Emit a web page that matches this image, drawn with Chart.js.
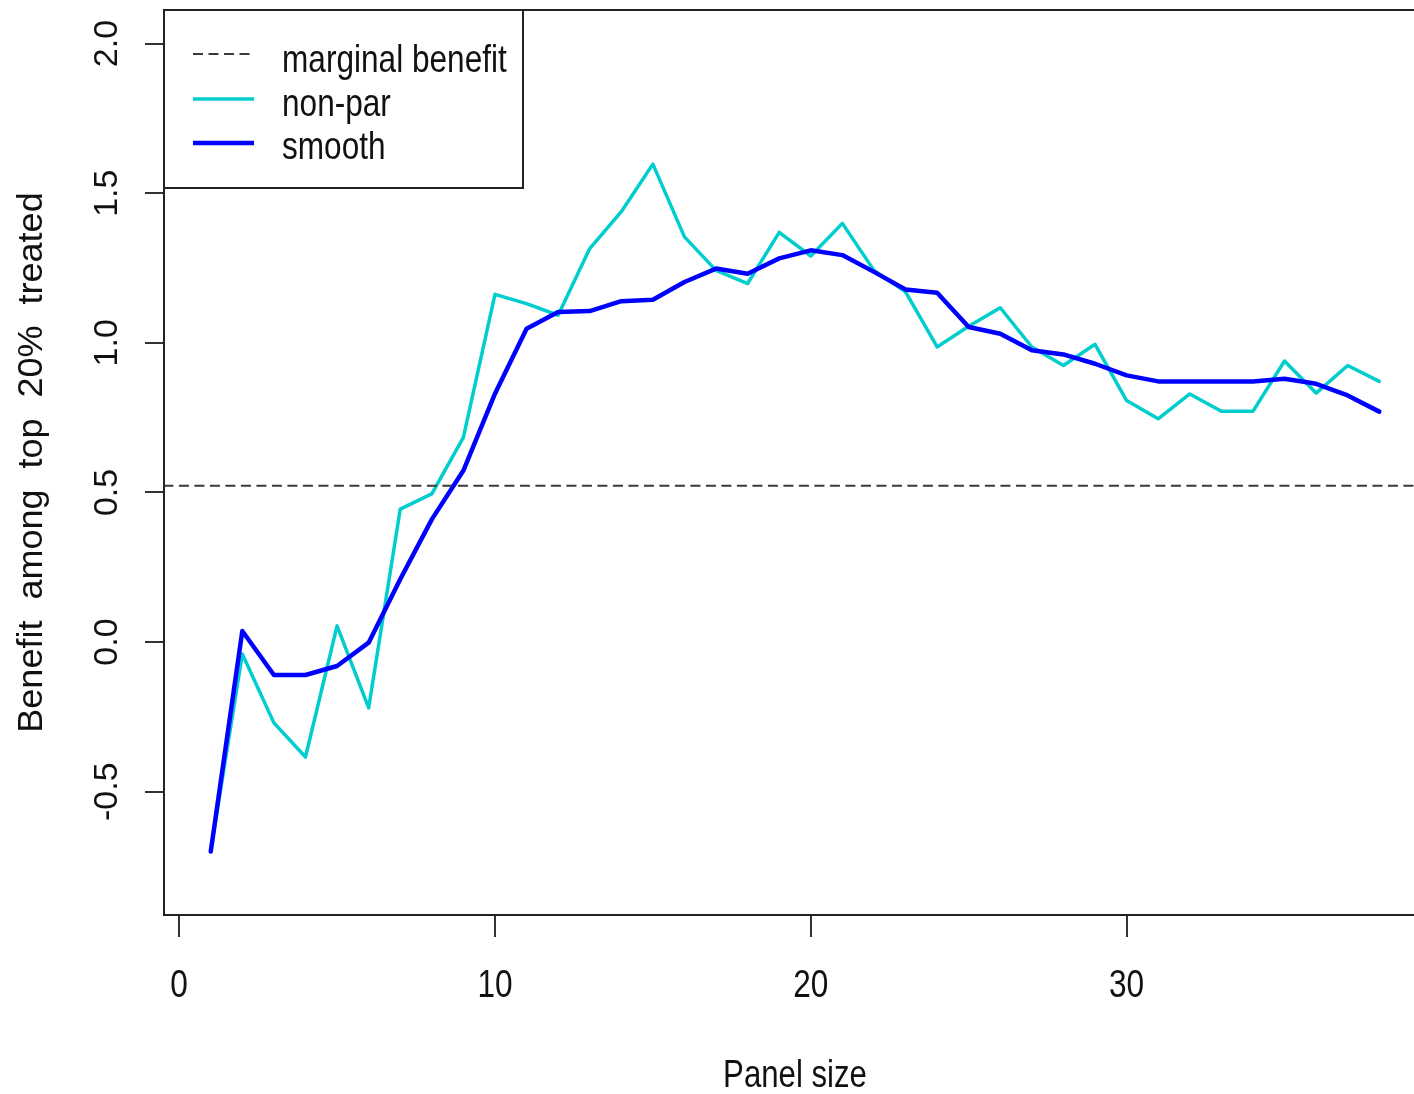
<!DOCTYPE html>
<html><head><meta charset="utf-8">
<script src="https://cdn.jsdelivr.net/npm/chart.js@4.4.0/dist/chart.umd.min.js"></script>
<style>
html,body{margin:0;padding:0;background:#fff;overflow:hidden;width:1414px;height:1094px}
#wrap{position:relative;width:1440px;height:1094px}
canvas{display:block}
</style></head>
<body><div id="wrap"><canvas id="c" width="1440" height="1094"></canvas></div>
<script>
const panelSize = [1,2,3,4,5,6,7,8,9,10,11,12,13,14,15,16,17,18,19,20,21,22,23,24,25,26,27,28,29,30,31,32,33,34,35,36,37,38];
const nonPar = [-0.70,-0.04,-0.27,-0.384,0.054,-0.22,0.444,0.495,0.684,1.162,1.131,1.092,1.315,1.438,1.597,1.354,1.242,1.198,1.369,1.29,1.399,1.242,1.17,0.986,1.055,1.117,0.986,0.924,0.995,0.807,0.746,0.829,0.771,0.771,0.939,0.832,0.924,0.871];
const smooth = [-0.70,0.037,-0.11,-0.11,-0.08,-0.002,0.21,0.41,0.573,0.83,1.047,1.103,1.106,1.139,1.144,1.203,1.248,1.231,1.282,1.309,1.293,1.237,1.178,1.167,1.053,1.03,0.975,0.961,0.93,0.891,0.871,0.871,0.871,0.871,0.88,0.863,0.824,0.77];
const marginalBenefit = 0.522;
const xTickValues = [0,10,20,30];
const xTickLabels = ["0","10","20","30"];
const yTickValues = [-0.5,0,0.5,1,1.5,2];
const yTickLabels = ["-0.5","0.0","0.5","1.0","1.5","2.0"];
const seriesNames = ["marginal benefit","non-par","smooth"];
const xTitle = "Panel size";
const yTitle = "Benefit among top 20% treated";

const X_MIN = -0.48, X_MAX = 39.48, Y_MIN = -0.912, Y_MAX = 2.112;
const FONT = '"Liberation Sans", Arial, sans-serif';

function txt(ctx, s, x, y, o) {
  ctx.save();
  ctx.translate(x, y);
  if (o.rot) ctx.rotate(-Math.PI / 2);
  ctx.scale(o.along || 1, o.across || 1);
  ctx.font = o.size + 'px ' + FONT;
  ctx.fillStyle = o.color || '#111';
  ctx.textAlign = o.align || 'center';
  ctx.textBaseline = 'alphabetic';
  if (o.wordSpacing && 'wordSpacing' in ctx) ctx.wordSpacing = o.wordSpacing;
  ctx.fillText(s, 0, 0);
  ctx.restore();
}

const rStyle = {
  id: 'rStyle',
  afterDraw(chart) {
    const ctx = chart.ctx;
    const a = chart.chartArea;
    const xs = chart.scales.x, ys = chart.scales.y;
    // plot box
    ctx.save();
    ctx.strokeStyle = '#222';
    ctx.lineWidth = 2;
    ctx.strokeRect(a.left, a.top, a.right - a.left, a.bottom - a.top);
    ctx.restore();
    // tick labels
    xs.ticks.forEach((t, i) => {
      txt(ctx, xTickLabels[i], xs.getPixelForValue(t.value), 997, {size: 39, along: 0.81});
    });
    ys.ticks.forEach((t, i) => {
      txt(ctx, yTickLabels[i], 117, ys.getPixelForValue(t.value), {size: 34, rot: true, across: 0.97});
    });
    // axis titles
    txt(ctx, xTitle, (a.left + a.right) / 2, 1087, {size: 38, along: 0.82});
    txt(ctx, yTitle, 42, (a.top + a.bottom) / 2, {size: 36, rot: true, across: 0.97, wordSpacing: '11px'});
    // legend
    const lx = a.left, ly = a.top, lw = 359, lh = 178;
    ctx.save();
    ctx.fillStyle = '#fff';
    ctx.fillRect(lx, ly, lw, lh);
    ctx.strokeStyle = '#222';
    ctx.lineWidth = 2;
    ctx.strokeRect(lx, ly, lw, lh);
    ctx.restore();
    const rows = [
      {ds: chart.data.datasets[0], y: 54, ty: 72},
      {ds: chart.data.datasets[1], y: 99, ty: 116},
      {ds: chart.data.datasets[2], y: 143, ty: 159}
    ];
    rows.forEach(r => {
      ctx.save();
      ctx.strokeStyle = r.ds.borderColor;
      ctx.lineWidth = r.ds.borderWidth;
      ctx.setLineDash(r.ds.borderDash || []);
      ctx.lineCap = 'butt';
      ctx.beginPath();
      ctx.moveTo(193, r.y);
      ctx.lineTo(254, r.y);
      ctx.stroke();
      ctx.restore();
      txt(ctx, r.ds.label, 282, r.ty, {size: 39, along: 0.81, align: 'left'});
    });
  }
};

new Chart(document.getElementById('c'), {
  type: 'line',
  data: {
    datasets: [
      {
        label: seriesNames[0],
        data: [{x: X_MIN - 1, y: marginalBenefit}, {x: X_MAX + 1, y: marginalBenefit}],
        borderColor: '#3a3a3a', borderWidth: 2, borderDash: [10, 5.5],
        pointRadius: 0, order: 0
      },
      {
        label: seriesNames[1],
        data: panelSize.map((x, i) => ({x, y: nonPar[i]})),
        borderColor: '#00CDCD', borderWidth: 3.5,
        borderJoinStyle: 'round', borderCapStyle: 'round',
        pointRadius: 0, tension: 0, order: 2
      },
      {
        label: seriesNames[2],
        data: panelSize.map((x, i) => ({x, y: smooth[i]})),
        borderColor: '#0000FF', borderWidth: 4.5,
        borderJoinStyle: 'round', borderCapStyle: 'round',
        pointRadius: 0, tension: 0, order: 1
      }
    ]
  },
  options: {
    responsive: false,
    animation: false,
    devicePixelRatio: 1,
    layout: {padding: {top: 10, right: 14, left: 0, bottom: 0}},
    plugins: {legend: {display: false}, tooltip: {enabled: false}},
    scales: {
      x: {
        type: 'linear', min: X_MIN, max: X_MAX,
        afterBuildTicks: s => { s.ticks = xTickValues.map(v => ({value: v})); },
        afterFit: s => { s.height = 179; },
        ticks: {display: false},
        grid: {drawOnChartArea: false, drawTicks: true, tickLength: 22, color: '#333', lineWidth: 2},
        border: {display: false}
      },
      y: {
        type: 'linear', min: Y_MIN, max: Y_MAX,
        afterBuildTicks: s => { s.ticks = yTickValues.map(v => ({value: v})); },
        afterFit: s => { s.width = 164; },
        ticks: {display: false},
        grid: {drawOnChartArea: false, drawTicks: true, tickLength: 19, color: '#333', lineWidth: 2},
        border: {display: false}
      }
    }
  },
  plugins: [rStyle]
});
</script>
</body></html>
